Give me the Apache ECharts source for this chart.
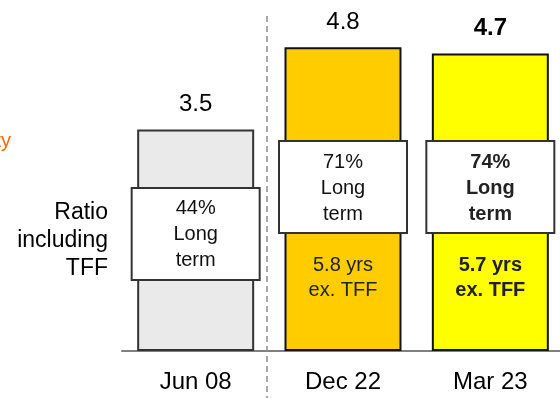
<!DOCTYPE html>
<html>
<head>
<meta charset="utf-8">
<script src="https://cdn.jsdelivr.net/npm/echarts@6/dist/echarts.min.js"></script>
<style>
  html, body { margin: 0; padding: 0; background: #fff; overflow: hidden; }
  /* the plot runs slightly past the right edge of the page */
  #chart { width: 564px; height: 398px; }
</style>
</head>
<body>
<div id="chart"></div>
<script>
// Debt maturity ratio (years), long-term share and maturity excluding TFF
const categories = ['Jun 08', 'Dec 22', 'Mar 23'];
const ratioYears = [3.5, 4.8, 4.7];
const longTermShare = [44, 71, 74];
const yearsExTFF = [null, 5.8, 5.7];
const boldFlags = [false, false, true];

const FONT = '"Liberation Sans", Arial, Helvetica, sans-serif';
const barFills = ['#EAEAEA', '#FFCC00', '#FFFF00'];
const barBorders = ['#333333', '#111111', '#111111'];
// vertical centre of each white call-out box, in axis units
const boxCentre = [1.85, 2.59, 2.59];
const exTffCentre = 1.16;

const chart = echarts.init(document.getElementById('chart'), null, { renderer: 'canvas' });

const option = {
  animation: false,
  backgroundColor: '#ffffff',
  grid: { left: 122, right: 0, top: 3, bottom: 47, containLabel: false },
  xAxis: {
    type: 'category',
    data: categories,
    axisTick: { show: false },
    axisLine: { show: true, lineStyle: { color: '#808080', width: 2 } },
    axisLabel: { fontSize: 24, color: '#000', fontFamily: FONT, margin: 19 }
  },
  yAxis: {
    type: 'value', min: 0, max: 5.5, show: false,
    splitLine: { show: false }
  },
  series: [
    {
      type: 'bar',
      barWidth: 117,
      z: 2,
      data: ratioYears.map((v, i) => ({
        value: v,
        itemStyle: { color: barFills[i], borderColor: barBorders[i], borderWidth: 2 },
        label: { fontWeight: boldFlags[i] ? 'bold' : 'normal' }
      })),
      label: {
        show: true,
        position: 'top',
        distance: 13,
        fontSize: 24,
        color: '#000',
        fontFamily: FONT,
        formatter: p => p.value.toFixed(1)
      }
    },
    {
      type: 'custom',
      z: 5,
      clip: false,
      silent: true,
      encode: { x: 0, y: 1 },
      data: categories.map((c, i) => [i, ratioYears[i]]),
      renderItem: function (params, api) {
        const i = params.dataIndex;
        const cx = api.coord([i, 0])[0];
        const cy = api.coord([i, boxCentre[i]])[1];
        const w = 128, h = 92;
        const weight = boldFlags[i] ? 'bold' : 'normal';
        const children = [
          {
            type: 'rect',
            shape: { x: cx - w / 2, y: cy - h / 2, width: w, height: h },
            style: { fill: '#ffffff', stroke: '#333333', lineWidth: 2 }
          },
          {
            type: 'text',
            style: {
              text: longTermShare[i] + '%\nLong\nterm',
              x: cx, y: cy + 1,
              align: 'center', verticalAlign: 'middle',
              fontSize: 20, fontFamily: FONT, fontWeight: weight,
              lineHeight: 26, fill: boldFlags[i] ? '#222' : '#111'
            }
          }
        ];
        if (yearsExTFF[i] != null) {
          const ty = api.coord([i, exTffCentre])[1];
          children.push({
            type: 'text',
            style: {
              text: yearsExTFF[i].toFixed(1) + ' yrs\nex. TFF',
              x: cx, y: ty,
              align: 'center', verticalAlign: 'middle',
              fontSize: 20, fontFamily: FONT, fontWeight: weight,
              lineHeight: 25, fill: '#222'
            }
          });
        }
        return { type: 'group', children: children };
      }
    }
  ],
  graphic: [
    {
      // divider between the historical and recent periods
      type: 'line',
      z: 1,
      shape: { x1: 267, y1: 16, x2: 267, y2: 398 },
      style: { stroke: '#8c8c8c', lineWidth: 1.5, lineDash: [6, 4] }
    },
    {
      type: 'text',
      style: {
        text: 'Ratio\nincluding\nTFF',
        x: 108, y: 241,
        align: 'right', verticalAlign: 'middle',
        fontSize: 23, fontFamily: FONT, lineHeight: 28, fill: '#000'
      }
    },
    {
      type: 'text',
      style: {
        text: 'Maturity',
        x: 11, y: 141,
        align: 'right', verticalAlign: 'middle',
        fontSize: 20, fontFamily: FONT, fill: '#FF6A00'
      }
    }
  ]
};

chart.setOption(option);
</script>
</body>
</html>
